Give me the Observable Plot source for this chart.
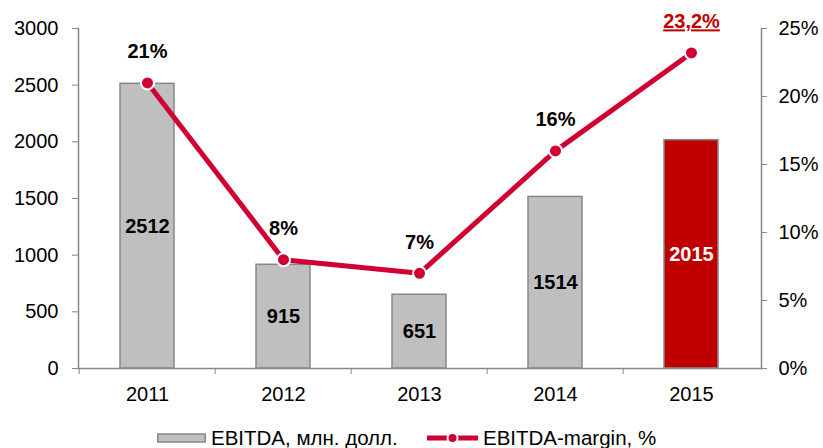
<!DOCTYPE html>
<html><head><meta charset="utf-8">
<script src="https://cdn.jsdelivr.net/npm/d3@7"></script>
<script src="https://cdn.jsdelivr.net/npm/@observablehq/plot@0.6"></script>
<style>
body{margin:0;background:#fff;font-family:"Liberation Sans",Arial,sans-serif;}
#legend{position:relative;height:38px;font-size:20.5px;color:#000;}
#legend .item{position:absolute;top:17px;display:flex;align-items:center;height:22px;}
</style></head><body>
<div id="chart"></div>
<div id="legend">
  <div class="item" style="left:157px"><svg width="50" height="12" style="margin-right:4px"><rect x="0.75" y="2" width="47.5" height="8" fill="#bfbfbf" stroke="#888" stroke-width="1.5"/></svg><span>EBITDA, млн. долл.</span></div>
  <div class="item" style="left:427px"><svg width="53" height="14" style="margin-right:3px"><line x1="0" y1="7" x2="51" y2="7" stroke="#d00032" stroke-width="5"/><circle cx="25.5" cy="7" r="5" fill="#d00032" stroke="#fff" stroke-width="2"/></svg><span>EBITDA-margin, %</span></div>
</div>
<script>
const years = ["2011", "2012", "2013", "2014", "2015"];
const ebitda = [2512, 915, 651, 1514, 2015];
const margin = [21, 8, 7, 16, 23.2];
const marginLabels = ["21%", "8%", "7%", "16%", "23,2%"];
const leftTicks = [0, 500, 1000, 1500, 2000, 2500, 3000];
const rightTicks = [0, 5, 10, 15, 20, 25];
const highlightYear = "2015";

const K = 3000 / 25; // right axis (%) mapped onto left axis units
const data = years.map((y, i) => ({year: y, ebitda: ebitda[i], margin: margin[i], label: marginLabels[i], hi: y === highlightYear}));

const W = 823, ML = 78, MR = 62;
const step = (W - ML - MR) / years.length;
const font = "Liberation Sans, Arial, sans-serif";

const chart = Plot.plot({
  width: W, height: 410,
  marginLeft: ML, marginRight: MR, marginTop: 28, marginBottom: 42,
  style: {fontFamily: font, fontSize: "20px", color: "#000", background: "#fff", display: "block"},
  x: {domain: years, paddingInner: 0.6, paddingOuter: 0.3, axis: null},
  y: {domain: [0, 3000], axis: null},
  marks: [
    Plot.barY(data, {x: "year", y: "ebitda", fill: d => d.hi ? "#c00000" : "#bfbfbf", stroke: "#888", strokeWidth: 1.5}),
    Plot.text(data, {x: "year", y: d => d.ebitda / 2, text: d => String(d.ebitda), fill: d => d.hi ? "#ffffff" : "#000000", fontWeight: "bold", fontSize: 20}),
    Plot.frame({anchor: "left", stroke: "#888", strokeWidth: 1.5}),
    Plot.frame({anchor: "right", stroke: "#888", strokeWidth: 1.5}),
    Plot.frame({anchor: "bottom", stroke: "#888", strokeWidth: 1.5}),
    Plot.axisY({ticks: leftTicks, anchor: "left", tickFormat: d => String(d), tickSize: 6, tickPadding: 14, stroke: "#888", fontSize: 20, label: null}),
    Plot.axisY({ticks: rightTicks.map(t => t * K), anchor: "right", tickFormat: d => `${Math.round(d / K)}%`, tickSize: 5, tickPadding: 12, stroke: "#888", fontSize: 20, label: null}),
    Plot.axisX({anchor: "bottom", tickSize: 0, tickPadding: 18, fontSize: 20, label: null}),
    Plot.axisX({anchor: "bottom", tickSize: 6, tickFormat: () => "", dx: -step / 2, stroke: "#888", label: null}),
    Plot.line(data, {x: "year", y: d => d.margin * K, stroke: "#d00032", strokeWidth: 5}),
    Plot.dot(data, {x: "year", y: d => d.margin * K, r: 6.5, fill: "#d00032", stroke: "#ffffff", strokeWidth: 2}),
    Plot.text(data, {x: "year", y: d => d.margin * K, text: "label", dy: -31, fill: d => d.hi ? "#c00000" : "#000000", fontWeight: "bold", fontSize: 20})
  ]
});
document.getElementById("chart").appendChild(chart);
d3.select(chart).selectAll("text").filter(function(){ return this.textContent === "23,2%"; }).style("text-decoration", "underline");
</script>
</body></html>
